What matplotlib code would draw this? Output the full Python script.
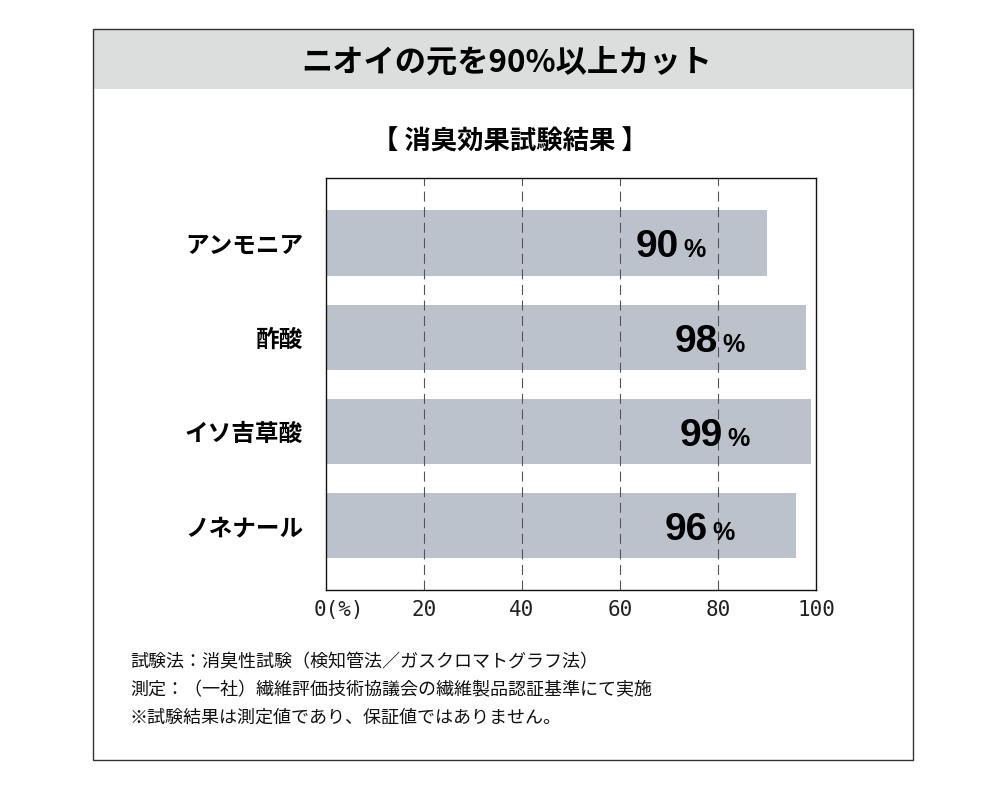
import matplotlib
matplotlib.use('Agg')
import matplotlib.pyplot as plt
from matplotlib.patches import Rectangle
import matplotlib.transforms as mtransforms

plt.rcParams['font.family'] = ['Noto Sans CJK JP', 'DejaVu Sans']

# data
categories = ['アンモニア', '酢酸', 'イソ吉草酸', 'ノネナール']
values = [90, 98, 99, 96]
xticks = [0, 20, 40, 60, 80, 100]
xtick_labels = ['0(%)', '20', '40', '60', '80', '100']
title = 'ニオイの元を90%以上カット'
subtitle = '【 消臭効果試験結果 】'
notes = [
    '試験法：消臭性試験（検知管法／ガスクロマトグラフ法）',
    '測定：（一社）繊維評価技術協議会の繊維製品認証基準にて実施',
    '※試験結果は測定値であり、保証値ではありません。',
]

fig = plt.figure(figsize=(10, 7.86), dpi=100)

# outer frame and header band
fig.patches.append(Rectangle((0.093, 0.8868), 0.82, 0.0763, transform=fig.transFigure,
                             facecolor='#dcdddd', edgecolor='none', zorder=0))
fig.patches.append(Rectangle((0.093, 0.0331), 0.82, 0.93, transform=fig.transFigure,
                             facecolor='none', edgecolor='#333333', linewidth=1.0, zorder=1))

fig.text(0.507, 0.920, title, ha='center', va='center', fontsize=22.5, fontweight='bold')
fig.text(0.510, 0.8195, subtitle, ha='center', va='center', fontsize=19, fontweight='bold')

for i, line in enumerate(notes):
    fig.text(0.130, 0.1578 - i * 0.0357, line, ha='left', va='center', fontsize=13, color='#111111')

ax = fig.add_axes([0.326, 0.2494, 0.49, 0.5242])
ypos = list(range(len(categories)))
ax.barh(ypos, values, height=0.69, color='#bcc2cc', zorder=1)

for x in xticks[1:-1]:
    ax.axvline(x, color='#555555', linewidth=0.8, dashes=(9, 5), zorder=2)

ax.set_xlim(0, 100)
ax.set_ylim(3.68, -0.69)

ax.set_yticks(ypos)
ax.set_yticklabels(categories, fontsize=17, fontweight='bold')
ax.tick_params(axis='y', length=0, pad=16.5)

ax.set_xticks(xticks)
ax.set_xticklabels(xtick_labels, fontsize=15, family='DejaVu Sans Mono', color='#222222')
ax.tick_params(axis='x', length=0, pad=7)
first = ax.get_xticklabels()[0]
first.set_ha('left')
first.set_transform(first.get_transform() + mtransforms.ScaledTranslation(-12 / 100, 0, fig.dpi_scale_trans))

for s in ax.spines.values():
    s.set_color('#111111')
    s.set_linewidth(1.0)

for i, v in enumerate(values):
    ax.annotate(f'{v}', xy=(v, i), xytext=(-63.5, -10.4), textcoords='offset points',
                ha='right', va='baseline', fontsize=28, fontweight='bold',
                family='Liberation Sans', zorder=3)
    ax.annotate('%', xy=(v, i), xytext=(-60.5, -10.4), textcoords='offset points',
                ha='left', va='baseline', fontsize=18, fontweight='bold',
                family='Liberation Sans', zorder=3)

fig.savefig('out.png', dpi=100)
